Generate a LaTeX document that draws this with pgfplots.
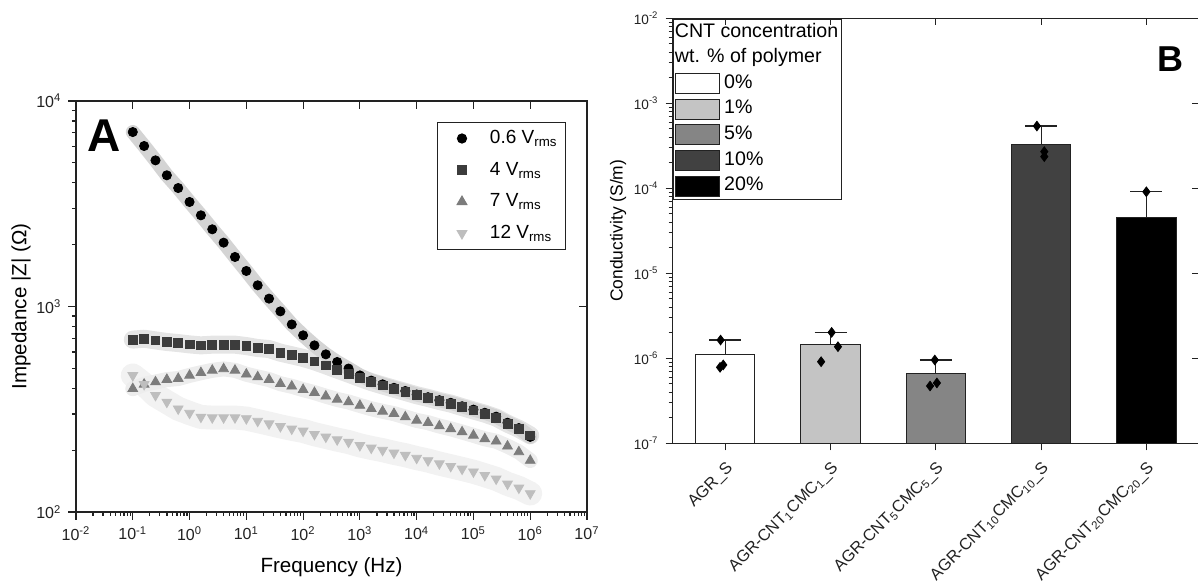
\documentclass[border=0pt]{standalone}
\usepackage{fontspec}
\setmainfont{Liberation Sans}
\usepackage{pgfplots}
\usepackage{pgfplotstable}
\pgfplotsset{compat=1.18}
\definecolor{axc}{HTML}{222222}
\definecolor{cS}{HTML}{3C3C3C}
\definecolor{cT}{HTML}{7C7C7C}
\definecolor{cD}{HTML}{BEBEBE}
\definecolor{b1}{HTML}{C4C4C4}
\definecolor{b2}{HTML}{858585}
\definecolor{b3}{HTML}{414141}
\pgfplotstableread{
f c s t d
0.1 7063 690 398 462
0.1585 6040 697 418 418
0.2512 5143 684 429 370
0.3981 4350 672 441 343
0.631 3772 664 446 318
1 3226 654 462 303
1.585 2778 647 476 290
2.512 2375 652 489 288
3.981 2045 652 497 288
6.31 1742 652 489 288
10 1489 642 468 285
15.85 1268 628 454 277
25.12 1092 621 441 269
39.81 947 596 421 261
63.1 818 579 409 254
100 724 562 394 248
158.5 647 541 381 239
251.2 585 517 366 232
398.1 537 493 353 225
631 499 471 343 219
1000 462 449 330 211
1585 436 429 318 205
2512 418 413 309 200
3981 402 398 301 194
6310 388 384 290 189
10000 373 370 279 183
15850 362 359 272 178
25120 350 347 262 172
39810 340 337 254 167
63100 327 324 245 162
100000 315 312 236 157
158500 304 301 227 151
251200 291 288 221 145
398100 272 269 209 137
631000 256 254 196 131
1000000 232 236 178 123
}\imp
\newcommand{\sps}[1]{10\textsuperscript{#1}}
\begin{document}
\begin{tikzpicture}
\useasboundingbox (0,0) rectangle (599bp,290.5bp);
% ---------------- Panel A ----------------
\begin{axis}[
 at={(38bp,34.5bp)}, anchor=south west, scale only axis,
 width=255.5bp, height=205.5bp,
 xmode=log, ymode=log, xmin=1e-2, xmax=1e7, ymin=1e2, ymax=1e4,
 xtick={1e-2,1e-1,1e0,1e1,1e2,1e3,1e4,1e5,1e6,1e7},
 xticklabels={\sps{-2},\sps{-1},\sps{0},\sps{1},\sps{2},\sps{3},\sps{4},\sps{5},\sps{6},\sps{7}},
 ytick={1e2,1e3,1e4},
 yticklabels={\sps{2},\sps{3},\sps{4}},
 tick align=outside, xtick pos=left, ytick pos=left,
 major tick length=3.8bp, minor tick length=2bp,
 axis line style={axc, line width=0.75bp},
 every tick/.style={axc, line width=0.6bp},
 tick label style={font=\fontsize{8bp}{9bp}\selectfont, text=axc},
 xlabel={Frequency (Hz)},
 ylabel={Impedance |Z| (Ω)},
 label style={font=\fontsize{10.3bp}{12bp}\selectfont},
 xlabel style={at={(axis description cs:0.5,-0.1338)}, anchor=center},
 ylabel style={at={(axis description cs:-0.1076,0.5)}, anchor=center},
 legend cell align=left,
 legend image code/.code={\path[draw=none,fill=none] (-9bp,-3bp) rectangle (9bp,3bp);
   \draw[mark repeat=2,mark phase=2,#1] plot coordinates {(-9bp,0bp) (0bp,0bp) (9bp,0bp)};},
 legend style={at={(axis description cs:1,1)}, anchor=north east,
   xshift=-10.5bp, yshift=-10.5bp, draw=axc, line width=0.5bp, fill=white,
   inner xsep=3bp, inner ysep=1bp, row sep=1.8bp, column sep=4bp,
   font=\fontsize{9.5bp}{11bp}\selectfont,
   nodes={inner sep=1bp, text height=8.5bp, text depth=3.5bp}},
]
% bands
\addplot[forget plot, no marks, line width=12bp, color=black!5, line cap=round, line join=round] table[x=f,y=d] {\imp};
\addplot[forget plot, no marks, line width=7.5bp, color=black!7, line cap=round, line join=round] table[x=f,y=t] {\imp};
\addplot[forget plot, no marks, line width=9bp, color=black!10, line cap=round, line join=round] table[x=f,y=s] {\imp};
\addplot[forget plot, no marks, line width=7bp, color=black!17, line cap=round, line join=round] table[x=f,y=c] {\imp};
% markers
\addplot[only marks, mark=*, mark size=2.3bp, mark options={draw=black, fill=black}] table[x=f,y=c] {\imp};
\addlegendentry{0.6 V\textsubscript{rms}}
\addplot[only marks, mark=square*, mark size=2.2bp, mark options={draw=cS, fill=cS}] table[x=f,y=s] {\imp};
\addlegendentry{4 V\textsubscript{rms}}
\addplot[only marks, mark=triangle*, mark size=2.8bp, mark options={draw=cT, fill=cT}] table[x=f,y=t] {\imp};
\addlegendentry{7 V\textsubscript{rms}}
\addplot[only marks, mark=triangle*, mark size=2.8bp, mark options={draw=cD, fill=cD, rotate=180}] table[x=f,y=d] {\imp};
\addlegendentry{12 V\textsubscript{rms}}
\end{axis}
\begin{axis}[
 at={(38bp,34.5bp)}, anchor=south west, scale only axis,
 width=255.5bp, height=205.5bp,
 xmode=log, ymode=log, xmin=1e-2, xmax=1e7, ymin=1e2, ymax=1e4,
 xtick={1e-2,1e-1,1e0,1e1,1e2,1e3,1e4,1e5,1e6,1e7},
 ytick={1e2,1e3,1e4}, xticklabels={}, yticklabels={},
 tick align=inside, xtick pos=right, ytick pos=right,
 major tick length=3.8bp, minor tick length=0pt,
 axis line style={draw=none},
 every tick/.style={axc, line width=0.6bp},
]
\end{axis}
\node[anchor=base west, inner sep=0pt, font=\bfseries\fontsize{23bp}{25bp}\selectfont] at (43.5bp,214.5bp) {A};
% ---------------- Panel B ----------------
\begin{axis}[
 at={(336.35bp,68.85bp)}, anchor=south west, scale only axis,
 width=263.15bp, height=212.5bp,
 ymode=log, log origin y=infty,
 xmin=-0.5, xmax=4.5, ymin=1e-7, ymax=1e-2,
 xtick={0,1,2,3,4},
 xticklabels={AGR\_S, AGR-CNT\textsubscript{1}CMC\textsubscript{1}\_S, AGR-CNT\textsubscript{5}CMC\textsubscript{5}\_S, AGR-CNT\textsubscript{10}CMC\textsubscript{10}\_S, AGR-CNT\textsubscript{20}CMC\textsubscript{20}\_S},
 ytick={1e-7,1e-6,1e-5,1e-4,1e-3,1e-2},
 yticklabels={\sps{-7},\sps{-6},\sps{-5},\sps{-4},\sps{-3},\sps{-2}},
 tick align=outside, xtick pos=left, ytick pos=left,
 major tick length=3.6bp, minor tick length=2bp,
 axis line style={axc, line width=0.75bp},
 every tick/.style={axc, line width=0.6bp},
 yticklabel style={font=\fontsize{6.8bp}{8bp}\selectfont, text=axc},
 xticklabel style={font=\fontsize{8.2bp}{9bp}\selectfont, text=axc, rotate=45, anchor=north east},
 ylabel={Conductivity (S/m)},
 ylabel style={font=\fontsize{8.7bp}{10bp}\selectfont, at={(axis description cs:-0.1039,0.5)}, anchor=center},
 legend cell align=left,
 legend image code/.code={\draw[#1] (0bp,-5bp) rectangle (21.65bp,5bp);},
 legend style={at={(axis description cs:0,1)}, anchor=north west,
   draw=axc, line width=0.6bp, fill=white,
   inner xsep=1bp, inner ysep=1bp, row sep=1.2bp, column sep=1.6bp,
   font=\fontsize{9.8bp}{11bp}\selectfont,
   nodes={inner sep=0.7bp, text height=7.4bp, text depth=2.8bp}},
 bar width=29.65bp,
]
\addlegendimage{empty legend}
\addlegendentry{\hspace{-24.65bp}CNT concentration}
\addlegendimage{empty legend}
\addlegendentry{\hspace{-24.65bp}wt. \% of polymer}
\addplot[ybar, bar shift=0pt, fill=white, draw=axc, line width=0.5bp,
  error bars/.cd, y dir=plus, y explicit,
  error bar style={axc, line width=0.6bp},
  error mark options={rotate=90, axc, line width=0.6bp, mark size=8bp}]
  coordinates {(0,1.12e-6) +- (0,0.52e-6)};
\addlegendentry{0\%}
\addplot[ybar, bar shift=0pt, fill=b1, draw=axc, line width=0.5bp,
  error bars/.cd, y dir=plus, y explicit,
  error bar style={axc, line width=0.6bp},
  error mark options={rotate=90, axc, line width=0.6bp, mark size=8bp}]
  coordinates {(1,1.44e-6) +- (0,0.58e-6)};
\addlegendentry{1\%}
\addplot[ybar, bar shift=0pt, fill=b2, draw=axc, line width=0.5bp,
  error bars/.cd, y dir=plus, y explicit,
  error bar style={axc, line width=0.6bp},
  error mark options={rotate=90, axc, line width=0.6bp, mark size=8bp}]
  coordinates {(2,6.6e-7) +- (0,2.95e-7)};
\addlegendentry{5\%}
\addplot[ybar, bar shift=0pt, fill=b3, draw=axc, line width=0.5bp,
  error bars/.cd, y dir=plus, y explicit,
  error bar style={axc, line width=0.6bp},
  error mark options={rotate=90, axc, line width=0.6bp, mark size=8bp}]
  coordinates {(3,3.32e-4) +- (0,2.08e-4)};
\addlegendentry{10\%}
\addplot[ybar, bar shift=0pt, fill=black, draw=axc, line width=0.5bp,
  error bars/.cd, y dir=plus, y explicit,
  error bar style={axc, line width=0.6bp},
  error mark options={rotate=90, axc, line width=0.6bp, mark size=8bp}]
  coordinates {(4,4.52e-5) +- (0,4.58e-5)};
\addlegendentry{20\%}
\addplot[forget plot, only marks, mark=diamond*, mark size=2.4bp, mark options={draw=black, fill=black}]
  coordinates {(-0.045,1.64e-6) (-0.02,8.36e-7) (-0.05,7.83e-7)
               (1.01,2.02e-6) (1.07,1.37e-6) (0.91,9.12e-7)
               (1.99,9.55e-7) (2.01,5.13e-7) (1.945,4.72e-7)
               (2.96,5.4e-4) (3.03,2.70e-4) (3.03,2.36e-4)
               (4.0,9.1e-5)};
\end{axis}
\begin{axis}[
 at={(336.35bp,68.85bp)}, anchor=south west, scale only axis,
 width=263.15bp, height=212.5bp,
 ymode=log, xmin=-0.5, xmax=4.5, ymin=1e-7, ymax=1e-2,
 xtick={0,1,2,3,4}, ytick={1e-7,1e-6,1e-5,1e-4,1e-3,1e-2},
 xticklabels={}, yticklabels={},
 tick align=inside, xtick pos=right, ytick pos=right,
 major tick length=3.4bp, minor tick length=0pt,
 axis line style={draw=none},
 every tick/.style={axc, line width=0.6bp},
]
\end{axis}
\node[anchor=base west, inner sep=0pt, font=\bfseries\fontsize{18bp}{20bp}\selectfont] at (578.5bp,254.65bp) {B};
\end{tikzpicture}
\end{document}
